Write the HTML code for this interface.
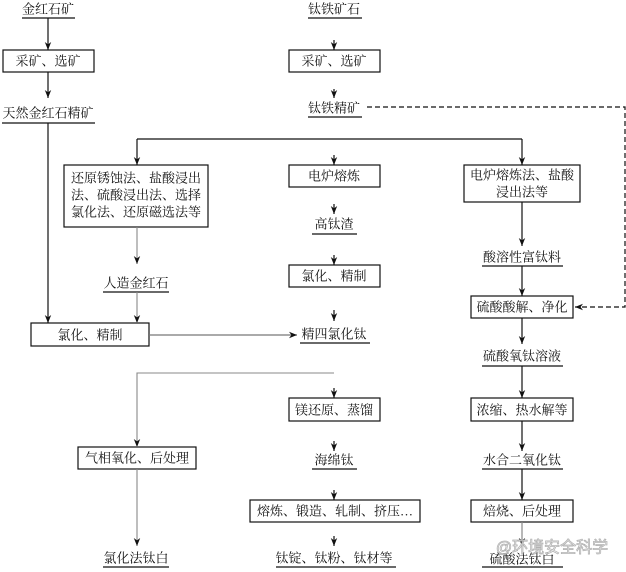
<!DOCTYPE html>
<html><head><meta charset="utf-8"><style>
html,body{margin:0;padding:0;background:#fff;}
svg{display:block;}
text{font-family:"Liberation Serif","Noto Serif CJK SC",serif;font-size:13px;fill:#111;text-anchor:middle;dominant-baseline:central;}
</style></head><body>
<svg width="626" height="572" viewBox="0 0 626 572" xmlns="http://www.w3.org/2000/svg">
<defs>
<marker id="a" viewBox="0 0 10 10" refX="10" refY="5" markerWidth="8" markerHeight="8" orient="auto" markerUnits="userSpaceOnUse">
<path d="M0,1 L10,5 L0,9 L3,5 z" fill="#111"/>
</marker>
</defs>
<g stroke="#111" stroke-width="1.2" fill="none">
<!-- underlines -->
<line x1="22" y1="18" x2="75" y2="18"/>
<line x1="2" y1="123" x2="95" y2="123"/>
<line x1="308" y1="18" x2="362" y2="18"/>
<line x1="308" y1="117" x2="362" y2="117"/>
<line x1="312" y1="234" x2="357" y2="234"/>
<line x1="103" y1="292" x2="169" y2="292"/>
<line x1="482" y1="266" x2="563" y2="266"/>
<line x1="300" y1="343" x2="370" y2="343"/>
<line x1="482" y1="366" x2="563" y2="366"/>
<line x1="312" y1="469" x2="357" y2="469"/>
<line x1="482" y1="469" x2="563" y2="469"/>
<line x1="103" y1="567" x2="169" y2="567"/>
<line x1="276" y1="567" x2="396" y2="567"/>
<line x1="482" y1="567" x2="563" y2="567"/>
<!-- boxes -->
<rect x="3" y="50" width="91" height="22"/>
<rect x="289" y="50" width="91" height="22"/>
<rect x="64" y="165" width="144" height="62"/>
<rect x="289" y="165" width="91" height="22"/>
<rect x="464" y="165" width="116" height="37"/>
<rect x="289" y="265" width="91" height="22"/>
<rect x="471" y="296" width="102" height="22"/>
<rect x="31" y="323" width="118" height="23"/>
<rect x="289" y="398" width="91" height="23"/>
<rect x="471" y="398" width="102" height="23"/>
<rect x="78" y="447" width="118" height="22"/>
<rect x="250" y="500" width="170" height="22"/>
<rect x="471" y="500" width="102" height="22"/>
<!-- connectors -->
<line x1="48" y1="18" x2="48" y2="50" marker-end="url(#a)"/>
<line x1="48" y1="72" x2="48" y2="98" marker-end="url(#a)"/>
<line x1="48" y1="123" x2="48" y2="323" marker-end="url(#a)"/>
<line x1="334" y1="40" x2="334" y2="50" marker-end="url(#a)"/>
<line x1="334" y1="89" x2="334" y2="98" marker-end="url(#a)"/>
<line x1="137" y1="139" x2="522" y2="139"/>
<line x1="137" y1="139" x2="137" y2="165" marker-end="url(#a)"/>
<line x1="334" y1="155" x2="334" y2="165" marker-end="url(#a)"/>
<line x1="522" y1="139" x2="522" y2="165" marker-end="url(#a)"/>
<line x1="334" y1="204" x2="334" y2="214" marker-end="url(#a)"/>
<line x1="334" y1="255" x2="334" y2="265" marker-end="url(#a)"/>
<line x1="522" y1="202" x2="522" y2="246" marker-end="url(#a)"/>
<line x1="522" y1="266" x2="522" y2="296" marker-end="url(#a)"/>
<line x1="149" y1="335" x2="297" y2="335" stroke="#777" marker-end="url(#a)"/>
<line x1="334" y1="310" x2="334" y2="321" marker-end="url(#a)"/>
<line x1="522" y1="318" x2="522" y2="344" marker-end="url(#a)"/>
<line x1="522" y1="366" x2="522" y2="398" marker-end="url(#a)"/>
<line x1="334" y1="388" x2="334" y2="398" marker-end="url(#a)"/>
<line x1="522" y1="421" x2="522" y2="451" marker-end="url(#a)"/>
<line x1="334" y1="441" x2="334" y2="451" marker-end="url(#a)"/>
<line x1="522" y1="469" x2="522" y2="500" marker-end="url(#a)"/>
<line x1="334" y1="490" x2="334" y2="500" marker-end="url(#a)"/>
<line x1="334" y1="536" x2="334" y2="546" marker-end="url(#a)"/>
<line x1="522" y1="522" x2="522" y2="546" stroke="#888" marker-end="url(#a)"/>
<!-- dashed -->
<polyline points="367,107 625,107 625,307 575,307" stroke-dasharray="5,3" marker-end="url(#a)"/>
</g>
<g stroke="#888" stroke-width="1.1" fill="none">
<line x1="137" y1="227" x2="137" y2="264" marker-end="url(#a)"/>
<line x1="137" y1="292" x2="137" y2="323" marker-end="url(#a)"/>
<polyline points="334,373 137,373 137,447" marker-end="url(#a)"/>
<line x1="137" y1="469" x2="137" y2="546" marker-end="url(#a)"/>
</g>
<text x="48" y="9">金红石矿</text>
<text x="48" y="61">采矿、选矿</text>
<text x="48" y="113">天然金红石精矿</text>
<text x="334" y="9">钛铁矿石</text>
<text x="334" y="61">采矿、选矿</text>
<text x="334" y="108">钛铁精矿</text>
<text x="136" y="178">还原锈蚀法、盐酸浸出</text>
<text x="136" y="195">法、硫酸浸出法、选择</text>
<text x="136" y="212">氯化法、还原磁选法等</text>
<text x="334" y="176">电炉熔炼</text>
<text x="522" y="175">电炉熔炼法、盐酸</text>
<text x="522" y="192">浸出法等</text>
<text x="334" y="224">高钛渣</text>
<text x="136" y="283">人造金红石</text>
<text x="334" y="276">氯化、精制</text>
<text x="522" y="257">酸溶性富钛料</text>
<text x="522" y="307">硫酸酸解、净化</text>
<text x="90" y="335">氯化、精制</text>
<text x="334" y="334">精四氯化钛</text>
<text x="522" y="356">硫酸氧钛溶液</text>
<text x="334" y="410">镁还原、蒸馏</text>
<text x="522" y="410">浓缩、热水解等</text>
<text x="137" y="458">气相氧化、后处理</text>
<text x="334" y="460">海绵钛</text>
<text x="522" y="460">水合二氧化钛</text>
<text x="335" y="511">熔炼、锻造、轧制、挤压…</text>
<text x="522" y="511">焙烧、后处理</text>
<text x="136" y="558">氯化法钛白</text>
<text x="334" y="558">钛锭、钛粉、钛材等</text>
<text x="522" y="559">硫酸法钛白</text>
<text x="552" y="548" style="font-family:'Liberation Sans','Noto Sans CJK SC',sans-serif;font-size:16px;fill:#fff;stroke:#aaa;stroke-width:0.8;opacity:0.9">@环境安全科学</text>
</svg>
</body></html>
